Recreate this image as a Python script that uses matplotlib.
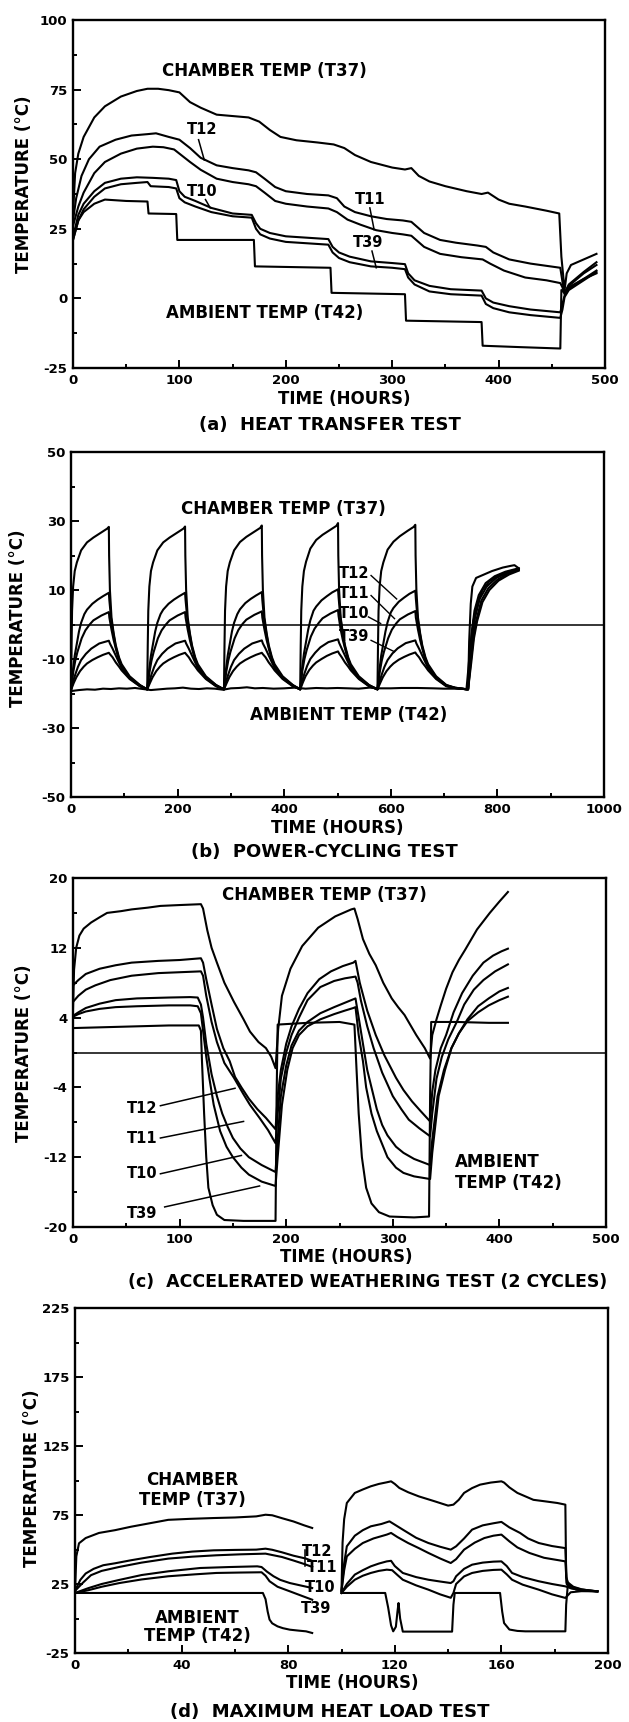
import numpy as np
import matplotlib
matplotlib.use("Agg")
import matplotlib.pyplot as plt
from matplotlib.ticker import FixedLocator

plt.rcParams['font.family'] = ['DejaVu Sans']
plt.rcParams['font.weight'] = 'bold'
plt.rcParams['axes.unicode_minus'] = False

# ---------------- (a) HEAT TRANSFER TEST ----------------
a_t37_x = [0, 2, 5, 10, 20, 30, 45, 60, 70, 80, 90, 100, 110, 120, 135, 150, 165, 175, 185, 195, 210, 230, 245, 255, 265,
           280, 300, 312, 318, 325, 335, 350, 370, 384, 390, 400, 410, 425, 445, 457, 459, 462, 464, 468, 480, 492]
a_t37_y = [30, 45, 52, 58, 65, 69, 72.5, 74.5, 75.3, 75.3, 74.8, 74, 70.5, 68.5, 66, 65.5, 65, 63.5, 60.5, 58, 56.8, 56, 55.3,
           54, 51.5, 49, 47, 46.3, 46.8, 44, 42, 40.3, 38.5, 37.5, 38, 35.5, 34, 33, 31.5, 30.5, 15, 3, 9, 12, 14, 16]
a_t12_x = [0, 3, 8, 15, 25, 40, 55, 70, 78, 90, 100, 110, 120, 135, 150, 165, 172, 180, 190, 200, 220, 240, 248, 255, 265,
           280, 295, 310, 318, 330, 345, 360, 380, 388, 395, 410, 430, 458, 460, 462, 466, 480, 492]
a_t12_y = [28, 36, 44, 50, 54.5, 57, 58.5, 59, 59.3, 58, 57, 54, 50.5, 47.8, 46.8, 46, 45.3, 43, 40, 38.5, 37.5, 37, 36, 33,
           31, 29.5, 28.5, 28, 27.5, 23.5, 21, 20, 19, 18.5, 16.5, 14, 12.5, 11, 6, 2, 5, 9.5, 13]
a_t11_x = [0, 5, 10, 20, 30, 45, 60, 75, 85, 95, 100, 110, 120, 135, 150, 165, 172, 180, 190, 200, 220, 240, 248, 258, 270,
           285, 300, 310, 318, 330, 345, 365, 385, 392, 405, 425, 445, 458, 460, 462, 466, 480, 492]
a_t11_y = [26, 33, 38, 45, 49, 52, 53.8, 54.5, 54.3, 53.5, 52, 49, 46.2, 43, 41.8, 41, 40.3, 38, 35, 34, 33, 32.3, 31, 28.3,
           26.5, 24.5, 23.5, 23, 22.5, 18.5, 16, 14.8, 14, 12.5, 10, 7.5, 6.5, 5.5, 4, 1.5, 4.5, 9, 12]
a_t10_x = [0, 5, 10, 20, 30, 45, 60, 75, 90, 97, 100, 105, 115, 130, 150, 168, 172, 176, 185, 200, 220, 240, 244, 250, 260,
           280, 300, 312, 315, 321, 335, 355, 384, 388, 395, 410, 430, 458, 460, 462, 466, 480, 492]
a_t10_y = [22, 30, 34, 38.5, 41.5, 43, 43.5, 43.3, 43, 42.5, 38.5, 36.5, 35, 32.5, 30.5, 30, 27, 25, 23.5, 22.3, 21.8, 21.3,
           18.5, 16.5, 15, 13.3, 12.7, 12.3, 9, 6.5, 4.5, 3.3, 2.8, 0, -1.5, -2.8, -4, -5, -2, 1, 3.5, 7, 10]
a_t39_x = [0, 5, 10, 20, 30, 45, 60, 70, 73, 90, 97, 100, 105, 115, 130, 150, 168, 172, 176, 185, 200, 220, 240, 244, 250,
           260, 280, 300, 312, 315, 321, 335, 355, 384, 388, 395, 410, 430, 458, 460, 462, 466, 480, 492]
a_t39_y = [21, 28, 32, 36.5, 39.5, 41, 41.5, 41.8, 40.3, 40, 39.5, 36, 34.5, 33, 31, 29.5, 29, 25, 23, 21.5, 20.3, 19.8, 19.3,
           16.5, 14.5, 13, 11.5, 11, 10.5, 7.5, 5, 2.5, 1.5, 1, -2, -3.5, -5, -6, -7, -4, 0.5, 3, 6.5, 9.5]
a_t42_x = [0, 5, 10, 20, 30, 50, 70, 71, 97, 98, 170, 171, 242, 243, 312, 313, 384, 385, 420, 458, 459, 462, 466, 480, 492]
a_t42_y = [21, 28, 31, 34, 35.5, 35, 34.8, 30.5, 30.3, 21, 21, 11.5, 11, 2, 1.5, -8, -8.5, -17, -17.5, -18, 3, 2, 4, 7, 9]

# ---------------- (b) POWER-CYCLING TEST ----------------
b_t37_x = [0, 1, 2, 4, 7, 11, 19, 30, 42, 57, 68, 71, 71.5, 73, 76, 80, 84, 90, 95, 110, 129,
           143, 144, 145, 147, 150, 154, 162, 173, 185, 200, 211, 214, 214.5, 216, 219, 223, 227, 233, 238, 253, 272,
           287, 288, 289, 291, 294, 298, 306, 317, 329, 344, 355, 358, 358.5, 360, 363, 367, 371, 377, 382, 397, 416,
           430, 431, 432, 434, 437, 441, 449, 460, 472, 487, 498, 501, 501.5, 503, 506, 510, 514, 520, 525, 540, 559,
           575, 576, 577, 579, 582, 586, 594, 605, 617, 632, 643, 646, 646.5, 648, 651, 655, 659, 665, 670, 685, 704, 720, 743,
           745, 747, 750, 753, 760, 775, 790, 810, 825, 832, 840]
b_t37_y = [-19, -6, 4, 11, 15.5, 18, 21.5, 23.8, 25.2, 26.7, 27.8, 28.3, 20, 10, 2, -2.5, -6, -9.5, -11.5, -15, -17.5,
           -18.8, -6, 4, 11, 15.5, 18, 21.5, 23.8, 25.2, 26.7, 27.8, 28.4, 20, 10, 2, -2.5, -6, -9.5, -11.5, -15, -17.5,
           -18.8, -6, 4, 11, 15.5, 18, 21.5, 23.9, 25.4, 26.9, 28, 28.7, 20, 10, 2, -2.5, -6, -9.5, -11.5, -15, -17.5,
           -18.8, -6, 4, 11, 15.5, 18.2, 22, 24.5, 26, 27.5, 28.6, 29.4, 20, 10, 2, -2.5, -6, -9.5, -11.5, -15, -17.5,
           -18.8, -6, 4, 11, 15.5, 18, 21.7, 24, 25.6, 27.2, 28.3, 28.9, 20, 10, 2, -2.5, -6, -9.5, -11.5, -15, -17.5, -18.3, -18.8,
           -18.8, -5, 6, 11, 13.5, 14.5, 15.5, 16.5, 17, 17.2, 16.3]
b_t12_x = [0, 3, 7, 11, 15, 19, 25, 30, 40, 50, 60, 71, 72, 75, 80, 84, 90, 95, 110, 129,
           143, 146, 150, 154, 158, 162, 168, 173, 183, 193, 203, 214, 215, 218, 223, 227, 233, 238, 253, 272,
           287, 290, 294, 298, 302, 306, 312, 317, 327, 337, 347, 358, 359, 362, 367, 371, 377, 382, 397, 416,
           430, 433, 437, 441, 445, 449, 455, 460, 470, 480, 490, 501, 502, 505, 510, 514, 520, 525, 540, 559,
           575, 578, 582, 586, 590, 594, 600, 605, 615, 625, 635, 646, 647, 650, 655, 659, 665, 670, 685, 704, 720, 743,
           745, 748, 752, 757, 765, 778, 795, 815, 840]
b_t12_y = [-19, -14, -9, -5.5, -2, 0.5, 3, 4.3, 6, 7.2, 8.2, 9.2, 7, 2, -3, -6.5, -10, -12, -15.3, -17.6,
           -18.8, -14, -9, -5.5, -2, 0.5, 3, 4.3, 6, 7.2, 8.2, 9.2, 7, 2, -3, -6.5, -10, -12, -15.3, -17.6,
           -18.8, -14, -9, -5.5, -2, 0.5, 3, 4.4, 6.2, 7.4, 8.4, 9.4, 7, 2, -3, -6.5, -10, -12, -15.3, -17.6,
           -18.8, -13.5, -8.5, -5, -1.5, 1.2, 4, 5.2, 7, 8.2, 9.3, 10.2, 8, 2.5, -3, -6.5, -10, -12, -15.3, -17.6,
           -18.8, -14, -9, -5.5, -2, 0.7, 3.5, 4.8, 6.6, 7.8, 8.9, 9.8, 7.5, 2, -3, -6.5, -10, -12, -15.3, -17.6, -18.3, -18.8,
           -18.8, -10, -2, 4, 8.5, 12, 14, 15.3, 16.3]
b_t11_x = [0, 4, 8, 12, 15, 20, 27, 35, 42, 57, 71, 72, 76, 80, 85, 90, 95, 110, 129,
           143, 147, 151, 155, 158, 163, 170, 178, 185, 200, 214, 215, 219, 223, 228, 233, 238, 253, 272,
           287, 291, 295, 299, 302, 307, 314, 322, 329, 344, 358, 359, 363, 367, 372, 377, 382, 397, 416,
           430, 434, 438, 442, 445, 450, 457, 465, 472, 487, 501, 502, 506, 510, 515, 520, 525, 540, 559,
           575, 579, 583, 587, 590, 595, 602, 610, 617, 632, 646, 647, 651, 655, 660, 665, 670, 685, 704, 720, 743,
           745, 749, 753, 758, 767, 780, 798, 818, 840]
b_t11_y = [-19, -14, -10.5, -8, -6.5, -4, -1.7, 0, 1.2, 2.6, 3.6, 2, -1.5, -4.5, -7.5, -10.2, -12.2, -15.4, -17.7,
           -18.8, -14, -10.5, -8, -6.5, -4, -1.7, 0, 1.2, 2.6, 3.6, 2, -1.5, -4.5, -7.5, -10.2, -12.2, -15.4, -17.7,
           -18.8, -14, -10.5, -8, -6.5, -4, -1.6, 0.2, 1.4, 2.8, 3.8, 2, -1.5, -4.5, -7.5, -10.2, -12.2, -15.4, -17.7,
           -18.8, -13.5, -10, -7.5, -6, -3.5, -1.2, 0.5, 1.8, 3.2, 4.2, 2.5, -1.5, -4.5, -7.5, -10.2, -12.2, -15.4, -17.7,
           -18.8, -14, -10.5, -8, -6.5, -4, -1.5, 0.3, 1.5, 2.9, 3.9, 2, -1.5, -4.5, -7.5, -10.2, -12.2, -15.4, -17.7, -18.4, -18.8,
           -18.8, -11, -4, 2, 7.5, 11, 13.5, 15, 16]
b_t10_x = [0, 4, 8, 13, 19, 28, 38, 53, 71, 73, 78, 84, 90, 95, 110, 129,
           143, 147, 151, 156, 162, 171, 181, 196, 214, 216, 221, 227, 233, 238, 253, 272,
           287, 291, 295, 300, 306, 315, 325, 340, 358, 360, 365, 371, 377, 382, 397, 416,
           430, 434, 438, 443, 449, 458, 468, 483, 501, 503, 508, 514, 520, 525, 540, 559,
           575, 579, 583, 588, 594, 603, 613, 628, 646, 648, 653, 659, 665, 670, 685, 704, 720, 743,
           745, 750, 755, 760, 770, 783, 800, 820, 840]
b_t10_y = [-19, -16.5, -14.5, -12.3, -10.3, -8.5, -7, -5.5, -4.7, -5.5, -7, -9, -11, -12.6, -15.6, -17.8,
           -18.8, -16.5, -14.5, -12.3, -10.3, -8.5, -7, -5.5, -4.7, -5.5, -7, -9, -11, -12.6, -15.6, -17.8,
           -18.8, -16.5, -14.5, -12.3, -10.3, -8.5, -7, -5.5, -4.6, -5.5, -7, -9, -11, -12.6, -15.6, -17.8,
           -18.8, -16.3, -14.2, -12, -10, -8.2, -6.6, -5.1, -4.3, -5.3, -7, -9, -11, -12.6, -15.6, -17.8,
           -18.8, -16.5, -14.5, -12.3, -10.3, -8.4, -6.9, -5.4, -4.6, -5.5, -7, -9, -11, -12.6, -15.6, -17.8, -18.4, -18.8,
           -18.8, -11, -4, 1, 7, 10.5, 13, 14.8, 15.8]
b_t39_x = [0, 5, 10, 17, 24, 30, 40, 50, 60, 71, 73, 78, 84, 90, 95, 110, 129,
           143, 148, 153, 160, 167, 173, 183, 193, 203, 214, 216, 221, 227, 233, 238, 253, 272,
           287, 292, 297, 304, 311, 317, 327, 337, 347, 358, 360, 365, 371, 377, 382, 397, 416,
           430, 435, 440, 447, 454, 460, 470, 480, 490, 501, 503, 508, 514, 520, 525, 540, 559,
           575, 580, 585, 592, 599, 605, 615, 625, 635, 646, 648, 653, 659, 665, 670, 685, 704, 720, 743,
           745, 751, 756, 762, 772, 785, 802, 822, 840]
b_t39_y = [-19, -17, -15.3, -13.5, -12.2, -11.3, -10.3, -9.5, -8.8, -8.2, -8.6, -9.5, -11, -12.2, -13.3, -15.8, -17.9,
           -18.8, -17, -15.3, -13.5, -12.2, -11.3, -10.3, -9.5, -8.8, -8.2, -8.6, -9.5, -11, -12.2, -13.3, -15.8, -17.9,
           -18.8, -17, -15.3, -13.5, -12.2, -11.3, -10.3, -9.5, -8.8, -8.2, -8.6, -9.5, -11, -12.2, -13.3, -15.8, -17.9,
           -18.8, -16.8, -15, -13.2, -11.9, -11, -10, -9.1, -8.4, -7.8, -8.4, -9.5, -11, -12.2, -13.3, -15.8, -17.9,
           -18.8, -17, -15.3, -13.5, -12.2, -11.3, -10.2, -9.4, -8.7, -8.1, -8.6, -9.5, -11, -12.2, -13.3, -15.8, -17.9, -18.4, -18.8,
           -18.8, -11, -4, 1, 6.5, 10, 12.7, 14.5, 15.6]
b_t42_x = [0, 15, 30, 45, 60, 75, 90, 105, 120, 135, 150, 165, 180, 195, 210, 225, 240, 255, 270, 285, 300, 315, 330,
           345, 360, 380, 400, 420, 440, 460, 480, 500, 520, 540, 560, 580, 600, 620, 650, 680, 700, 720, 742,
           746, 750, 755, 762, 772, 785, 800, 820, 840]
b_t42_y = [-19.3, -19, -18.8, -18.9, -18.6, -18.7, -18.5, -18.6, -18.4, -18.7, -19, -18.8, -18.6, -18.5, -18.3, -18.6,
           -18.7, -18.5, -18.6, -18.9, -18.5, -18.4, -18.2, -18.5, -18.4, -18.6, -18.5, -18.3, -18.6, -18.4, -18.5,
           -18.4, -18.5, -18.6, -18.3, -18.5, -18.5, -18.4, -18.4, -18.5, -18.6, -18.6, -18.7,
           -12, -5, 1, 6, 10, 12.5, 14, 15.2, 16]

# ---------------- (c) ACCELERATED WEATHERING TEST ----------------
c_t37_x = [0, 1, 3, 6, 10, 17, 25, 32, 45, 55, 70, 82, 100, 120, 122, 126, 130, 135, 142, 151, 160, 166, 174, 181, 186,
           190, 192.5, 196, 204, 215, 230, 246, 261, 264, 267, 272, 278, 284, 291, 299, 305, 311, 322, 330, 335,
           337, 341, 345, 350, 356, 362, 368, 379, 391, 400, 408]
c_t37_y = [5, 9.5, 12, 13.4, 14.2, 14.9, 15.5, 16, 16.2, 16.4, 16.6, 16.8, 16.9, 17, 16.5, 14, 12, 10.3, 8, 5.8, 3.8, 2.4,
           1.2, 0.5, -0.5, -1.8, 2.7, 6.5, 9.6, 12.2, 14.3, 15.6, 16.4, 16.5, 15.3, 13, 11.3, 10, 8, 6.2, 5.2, 4.3, 2,
           0.5, -0.7, 2, 3.8, 5.4, 7.3, 9.2, 10.6, 11.8, 14.1, 16, 17.3, 18.4]
c_t12_x = [0, 5, 12, 25, 40, 55, 80, 100, 120, 122, 125, 130, 135, 141, 147, 152, 158, 165, 173, 181, 190, 192, 195, 200,
           205, 212, 220, 231, 242, 253, 263, 265, 269, 276, 284, 292, 303, 310, 318, 326, 335, 337, 340, 345, 350,
           357, 365, 375, 385, 394, 402, 408]
c_t12_y = [7.7, 8.3, 9, 9.6, 10, 10.3, 10.5, 10.6, 10.8, 10.3, 8.4, 5.5, 2.7, 0.5, -1, -2.8, -4, -5.3, -6.5, -7.5, -8.8,
           -5, -2, 1, 3, 5, 6.8, 8.4, 9.3, 9.9, 10.3, 10.5, 8, 4.8, 2, -0.3, -2.9, -4.3, -5.6, -6.7, -7.9, -4.5, -2,
           0.5, 2, 4.6, 6.8, 8.8, 10.3, 11.1, 11.6, 11.9]
c_t11_x = [0, 5, 12, 21, 35, 55, 80, 100, 120, 122, 125, 130, 135, 142, 151, 160, 166, 175, 183, 190, 192, 195, 200, 205,
           212, 220, 232, 245, 255, 265, 267, 270, 276, 282, 290, 300, 308, 315, 325, 335, 337, 341, 346, 352, 360,
           367, 376, 385, 396, 408]
c_t11_y = [5.8, 6.5, 7.2, 7.7, 8.3, 8.8, 9.1, 9.2, 9.3, 8.8, 6.5, 3.5, 1.2, -1.2, -2.9, -4.8, -6, -7.5, -8.9, -10.4, -7,
           -3, 0, 2, 4, 6, 7.5, 8.2, 8.5, 8.7, 8, 6, 3, 0.5, -2.3, -5, -6.5, -7.7, -8.7, -9.6, -7, -3, -0.5, 1.5, 3.5,
           5.5, 7.2, 8.3, 9.3, 10.1]
c_t10_x = [0, 5, 12, 25, 40, 60, 90, 110, 117, 120, 122, 125, 130, 135, 140, 145, 150, 157, 165, 177, 190, 192, 195, 200,
           205, 212, 220, 232, 245, 255, 263, 265, 268, 272, 276, 281, 285, 290, 295, 303, 310, 320, 335, 337, 342,
           348, 355, 362, 370, 380, 390, 400, 408]
c_t10_y = [4.2, 4.6, 5.1, 5.6, 6, 6.2, 6.3, 6.35, 6.3, 5.5, 4, 1, -2.5, -5, -7, -8.5, -9.8, -11, -12, -12.9, -13.7, -10,
           -5, -1.5, 0.8, 2.5, 3.5, 4.5, 5.2, 5.7, 6.1, 6.2, 4, 1, -2, -4.5, -6.5, -8.3, -9.5, -10.8, -11.5, -12.2,
           -12.9, -10, -5, -2, 0.5, 2.2, 3.8, 5.3, 6.2, 7, 7.4]
c_t39_x = [0, 5, 12, 25, 40, 60, 90, 110, 117, 120, 122, 125, 128, 132, 138, 144, 150, 158, 165, 177, 190, 192, 196, 201,
           206, 212, 220, 232, 245, 255, 263, 265, 268, 272, 275, 280, 285, 290, 295, 303, 310, 320, 335, 337, 343,
           349, 355, 362, 370, 380, 390, 400, 408]
c_t39_y = [4.1, 4.4, 4.7, 5, 5.2, 5.3, 5.4, 5.4, 5.3, 4.5, 2.5, -0.5, -3, -6, -9, -10.8, -12, -13.2, -14, -14.8, -15.3,
           -12, -6, -2, 0.5, 2, 3, 3.8, 4.4, 4.8, 5.1, 5.2, 2, -1, -4, -7, -9, -10.5, -12, -13.2, -13.8, -14.2, -14.5,
           -11.5, -5, -2, 0.5, 2.2, 3.6, 4.6, 5.4, 6, 6.4]
c_t42_x = [0, 30, 60, 90, 118, 120, 121, 123, 125, 127, 131, 135, 142, 160, 190, 191, 192, 220, 250, 264, 266, 268, 271,
           275, 280, 287, 297, 320, 334, 335, 336, 360, 390, 408]
c_t42_y = [2.8, 2.9, 3, 3.1, 3.1, 2.5, -1, -7, -12, -15.5, -17.5, -18.6, -19.2, -19.3, -19.3, -5, 3.2, 3.4, 3.5, 3.2,
           -2, -7, -12, -15.5, -17.3, -18.3, -18.8, -18.9, -18.8, -5, 3.5, 3.5, 3.4, 3.4]

# ---------------- (d) MAXIMUM HEAT LOAD TEST ----------------
d_t37_x1 = [0, 0.5, 1.5, 4, 9, 15, 21, 28, 35, 43, 52, 60, 68, 71.5, 74, 78, 82, 86, 89]
d_t37_y1 = [20, 45, 54.5, 58.3, 62, 64, 66.5, 69, 71.5, 72.2, 72.8, 73.2, 74, 75.2, 74.8, 72.5, 70.3, 67.5, 65.6]
d_t37_x2 = [100, 100.4, 101, 102, 105, 108, 111, 114, 117, 118.6, 120, 121.7, 125, 129, 135, 140, 142, 144, 146, 149,
            152, 156, 160, 161, 163, 166, 169, 172, 176, 181, 184, 184.3, 185, 187, 190, 193, 196]
d_t37_y2 = [20, 55, 72, 83.7, 91, 93.5, 95.8, 97.5, 98.7, 99.4, 97.5, 94.6, 91.5, 88.5, 84.9, 81.8, 82.5, 86, 91, 94.5,
            97, 98.5, 99.4, 98.5, 95, 91, 88.5, 86, 85, 83.7, 82.5, 30, 26, 23, 21.2, 20.3, 19.7]
d_t12_x1 = [0, 2, 4, 7, 10.6, 15, 21, 28, 36.5, 44, 52, 60, 68, 71.5, 74, 77.6, 82, 86.7, 89]
d_t12_y1 = [20, 28, 32.6, 36, 38.6, 40, 42.2, 44.5, 47, 48.5, 49.4, 49.7, 49.9, 50.6, 49.8, 48, 45.5, 43.4, 41.7]
d_t12_x2 = [100, 101, 102, 105, 108, 111, 115, 118, 120, 123, 128, 132.6, 137, 141, 143, 146, 149, 153, 157, 160, 163,
            167, 170, 174, 179, 184, 184.5, 186, 190, 196]
d_t12_y2 = [20, 40, 52.3, 60, 64, 66.8, 68.5, 70.4, 68, 64.4, 58.5, 54.7, 52, 49.9, 52.3, 58, 64.4, 67.5, 69, 70, 66,
            62, 58, 54.7, 52.5, 51, 26, 23, 21, 19.7]
d_t11_x1 = [0, 3, 6, 10, 16.7, 25, 35, 44, 53, 62, 71.5, 74, 77.6, 82, 86, 89]
d_t11_y1 = [20, 26, 31.4, 34.5, 37.4, 40.5, 43.4, 44.8, 45.8, 46.5, 47, 46, 44.6, 42, 39.5, 37.4]
d_t11_x2 = [100, 101, 102, 105, 108, 112, 117, 118.6, 121, 125, 129, 132.6, 137, 141, 143, 146, 150, 153.6, 157, 160,
            163, 166, 170.5, 176, 184, 184.5, 186, 190, 196]
d_t11_y2 = [20, 35, 45, 50.5, 54.7, 58, 60.8, 62, 59, 54.7, 51, 47.5, 43.5, 40.2, 43, 49.9, 55, 58.3, 60, 60.8, 55.9,
            51.5, 47.5, 44, 41.4, 25, 22, 20.5, 19.7]
d_t10_x1 = [0, 5, 10, 16.7, 25, 35, 47, 58, 68.4, 70, 72, 74.5, 77, 80.6, 85, 89]
d_t10_y1 = [18.5, 22, 25, 28, 31.5, 34.2, 36.6, 37.3, 37.8, 37.3, 34, 30.6, 28, 25.7, 23.8, 22.1]
d_t10_x2 = [100, 102, 105, 108, 111, 114, 117, 118.6, 120, 123, 128, 132.6, 137, 141, 142, 143, 146, 149, 153, 157, 160,
            162, 164, 168, 174, 179, 184, 186, 190, 196]
d_t10_y2 = [18.5, 25, 31.8, 35, 37.8, 39.8, 41.4, 41.8, 38, 33, 30, 28.1, 26.8, 25.7, 27, 30.6, 36, 39, 40.5, 41.2, 41.4,
            38, 33, 30, 27, 25, 23.3, 22, 20.5, 19.7]
d_t39_x1 = [0, 5, 10, 16.7, 25, 35, 45, 53, 62, 70, 71.5, 73, 76, 80.6, 85, 89]
d_t39_y1 = [18.5, 20.5, 23, 25.7, 28.3, 30.6, 32, 33, 33.3, 33.5, 31, 27, 23, 19.7, 16.5, 13.6]
d_t39_x2 = [100, 102, 105, 108, 111, 114, 117, 119, 121, 123, 128, 132.6, 137, 141, 142, 143, 146, 149, 153, 157, 160,
            162, 164, 168, 174, 179, 184, 186, 190, 196]
d_t39_y2 = [18.5, 23, 28.1, 31, 33, 34.5, 35.4, 35, 31.5, 28.1, 24, 20.9, 17.5, 15, 18.5, 25, 30.5, 33, 34.5, 35.2, 35.4,
            32, 28.1, 24.5, 20.9, 17.5, 14.9, 19, 19.8, 19.7]
d_t42_x1 = [0, 20, 40, 60, 70.5, 71.5, 72.3, 73, 74, 76, 78, 80.6, 84, 86.7, 89]
d_t42_y1 = [18.5, 18.5, 18.5, 18.5, 18.5, 14, 5, -0.8, -3.5, -5.7, -7, -8.1, -8.8, -9.3, -10.5]
d_t42_x2 = [100, 110, 116.4, 117.5, 118.6, 119.4, 120.4, 121, 121.4, 122, 123, 130, 141.5, 142, 142.5, 150, 159.5, 160.3,
            161, 163, 166, 169, 176, 184, 184.3, 185, 186, 188, 192, 196]
d_t42_y2 = [18.5, 18.5, 18.5, 8, -5, -9.3, -6, 5, 11.2, 0, -9.5, -9.5, -9.5, 10, 18.5, 18.5, 18.5, 5, -3.3, -8, -9,
            -9.3, -9.3, -9.3, 10, 26, 23, 21, 20, 19.7]

# ---------------- layout ----------------
W, H = 629, 1722
fig = plt.figure(figsize=(W / 100, H / 100), dpi=100)
LW = 1.5


def add_ax(l, r, t, b):
    return fig.add_axes([l / W, 1 - b / H, (r - l) / W, (b - t) / H])


def style(ax, xlim, ylim, xmaj, xmin, ymaj, ymin):
    ax.set_xlim(*xlim)
    ax.set_ylim(*ylim)
    ax.xaxis.set_major_locator(FixedLocator(xmaj))
    ax.xaxis.set_minor_locator(FixedLocator(xmin))
    ax.yaxis.set_major_locator(FixedLocator(ymaj))
    ax.yaxis.set_minor_locator(FixedLocator(ymin))
    ax.tick_params(which='both', direction='in', top=False, right=False, width=1.4, colors='black')
    ax.tick_params(which='major', length=6, labelsize=9.5, pad=4)
    ax.tick_params(which='minor', length=3)
    for s in ax.spines.values():
        s.set_linewidth(1.7)


def ftext(x, y, s, **kw):
    fig.text(x / W, 1 - y / H, s, ha='center', va='center', **kw)


def line(ax, x, y, lw=LW):
    ax.plot(x, y, color='black', lw=lw, solid_joinstyle='round')


# (a)
axa = add_ax(73, 605, 20, 368)
style(axa, (0, 500), (-25, 100), [0, 100, 200, 300, 400, 500], [50, 150, 250, 350, 450],
      [-25, 0, 25, 50, 75, 100], [-12.5, 12.5, 37.5, 62.5, 87.5])
for x, y in [(a_t37_x, a_t37_y), (a_t12_x, a_t12_y), (a_t11_x, a_t11_y), (a_t10_x, a_t10_y),
             (a_t39_x, a_t39_y), (a_t42_x, a_t42_y)]:
    line(axa, x, y)
axa.text(180, 81.7, 'CHAMBER TEMP (T37)', ha='center', va='center', fontsize=12)
axa.text(180, -5.2, 'AMBIENT TEMP (T42)', ha='center', va='center', fontsize=12)
axa.text(121, 60.7, 'T12', ha='center', va='center', fontsize=10.5)
axa.text(121.5, 38.5, 'T10', ha='center', va='center', fontsize=10.5)
axa.text(279, 35.5, 'T11', ha='center', va='center', fontsize=10.5)
axa.text(277, 20, 'T39', ha='center', va='center', fontsize=10.5)
for (x0, y0, x1, y1) in [(118, 57, 123.4, 49.7), (124.5, 35.5, 129, 32.5), (279, 32.5, 283, 24.7), (281, 17, 285, 11)]:
    axa.plot([x0, x1], [y0, y1], color='black', lw=1.1)
ftext(24, 184, 'TEMPERATURE (°C)', rotation=90, fontsize=12)
ftext(344, 399, 'TIME (HOURS)', fontsize=12)
ftext(330, 425, '(a)  HEAT TRANSFER TEST', fontsize=13)

# (b)
axb = add_ax(71, 604, 452, 797)
style(axb, (0, 1000), (-50, 50), [0, 200, 400, 600, 800, 1000], [100, 300, 500, 700, 900],
      [-50, -30, -10, 10, 30, 50], [-40, -20, 0, 20, 40])
axb.axhline(0, color='black', lw=1.1)
for x, y in [(b_t37_x, b_t37_y), (b_t12_x, b_t12_y), (b_t11_x, b_t11_y), (b_t10_x, b_t10_y),
             (b_t39_x, b_t39_y), (b_t42_x, b_t42_y)]:
    line(axb, x, y)
axb.text(399, 33.4, 'CHAMBER TEMP (T37)', ha='center', va='center', fontsize=12)
axb.text(520, -26.2, 'AMBIENT TEMP (T42)', ha='center', va='center', fontsize=12)
for lab, y in [('T12', 14.7), ('T11', 8.9), ('T10', 3.1), ('T39', -3.6)]:
    axb.text(531, y, lab, ha='center', va='center', fontsize=10.5)
for (x0, y0, x1, y1) in [(563, 14.2, 611, 7.4), (563, 8.4, 607, 1.7), (558, 2.2, 581, 0.3), (563, -4.6, 607, -7.9)]:
    axb.plot([x0, x1], [y0, y1], color='black', lw=1.0)
ftext(18, 618, 'TEMPERATURE (°C)', rotation=90, fontsize=12)
ftext(337, 828, 'TIME (HOURS)', fontsize=12)
ftext(324, 852, '(b)  POWER-CYCLING TEST', fontsize=13)

# (c)
axc = add_ax(73, 606, 878, 1227)
style(axc, (0, 500), (-20, 20), [0, 100, 200, 300, 400, 500], [50, 150, 250, 350, 450],
      [-20, -12, -4, 4, 12, 20], [-16, -8, 0, 8, 16])
axc.axhline(0, color='black', lw=1.1)
for x, y in [(c_t37_x, c_t37_y), (c_t12_x, c_t12_y), (c_t11_x, c_t11_y), (c_t10_x, c_t10_y),
             (c_t39_x, c_t39_y), (c_t42_x, c_t42_y)]:
    line(axc, x, y)
axc.text(236, 18.1, 'CHAMBER TEMP (T37)', ha='center', va='center', fontsize=12)
axc.text(358, -12.5, 'AMBIENT', ha='left', va='center', fontsize=12)
axc.text(358, -15.0, 'TEMP (T42)', ha='left', va='center', fontsize=12)
for lab, y in [('T12', -6.4), ('T11', -9.8), ('T10', -13.9), ('T39', -18.5)]:
    axc.text(65, y, lab, ha='center', va='center', fontsize=10.5)
for (x0, y0, x1, y1) in [(82, -6.1, 152, -4.1), (82, -9.8, 160, -7.9), (82, -13.9, 158, -11.8), (86, -17.7, 175, -15.3)]:
    axc.plot([x0, x1], [y0, y1], color='black', lw=1.1)
ftext(24, 1053, 'TEMPERATURE (°C)', rotation=90, fontsize=12)
ftext(346, 1257, 'TIME (HOURS)', fontsize=12)
ftext(368, 1282, '(c)  ACCELERATED WEATHERING TEST (2 CYCLES)', fontsize=12.5)

# (d)
axd = add_ax(75, 608, 1308, 1653)
style(axd, (0, 200), (-25, 225), [0, 40, 80, 120, 160, 200], [20, 60, 100, 140, 180],
      [-25, 25, 75, 125, 175, 225], [0, 50, 100, 150, 200])
for x, y in [(d_t37_x1, d_t37_y1), (d_t37_x2, d_t37_y2), (d_t12_x1, d_t12_y1), (d_t12_x2, d_t12_y2),
             (d_t11_x1, d_t11_y1), (d_t11_x2, d_t11_y2), (d_t10_x1, d_t10_y1), (d_t10_x2, d_t10_y2),
             (d_t39_x1, d_t39_y1), (d_t39_x2, d_t39_y2), (d_t42_x1, d_t42_y1), (d_t42_x2, d_t42_y2)]:
    line(axd, x, y)
axd.text(44, 100.6, 'CHAMBER', ha='center', va='center', fontsize=12)
axd.text(44, 86, 'TEMP (T37)', ha='center', va='center', fontsize=12)
axd.text(46, 0.4, 'AMBIENT', ha='center', va='center', fontsize=12)
axd.text(46, -13, 'TEMP (T42)', ha='center', va='center', fontsize=12)
for lab, x, y in [('T12', 91, 48.7), ('T11', 92.8, 36.6), ('T10', 92, 22.6), ('T39', 90.5, 6.9)]:
    axd.text(x, y, lab, ha='center', va='center', fontsize=10.5)
axd.plot([86.2, 86.2], [50, 38], color='black', lw=1.1)
ftext(32, 1478, 'TEMPERATURE (°C)', rotation=90, fontsize=12)
ftext(352, 1683, 'TIME (HOURS)', fontsize=12)
ftext(330, 1712, '(d)  MAXIMUM HEAT LOAD TEST', fontsize=13)

fig.savefig('out.png', dpi=100, facecolor='white')
